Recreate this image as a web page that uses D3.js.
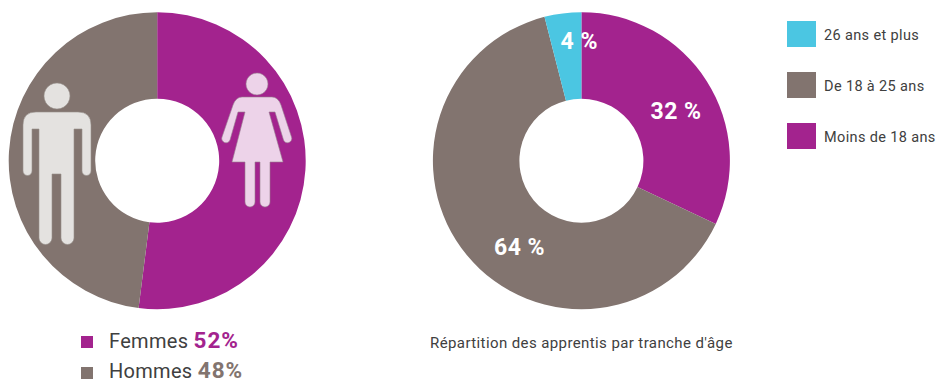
<!DOCTYPE html>
<html>
<head>
<meta charset="utf-8">
<script src="https://cdnjs.cloudflare.com/ajax/libs/d3/7.8.5/d3.min.js"></script>
<style>
    html, body { margin: 0; padding: 0; background: #fff; }
    svg { display: block; }
    text { font-family: Roboto, sans-serif; }
</style>
</head>
<body>
<svg id="chart" width="936" height="383"></svg>
<script>
var genreLabels = ["Femmes", "Hommes"];
var genreValues = [52, 48];
var ageLabels = ["Moins de 18 ans", "De 18 à 25 ans", "26 ans et plus"];
var ageValues = [32, 64, 4];
var ageTitle = "Répartition des apprentis par tranche d'âge";

var purple = "#a3238e",
    grey = "#82746f",
    cyan = "#4bc6e2",
    ink = "#404040";

var svg = d3.select("#chart");

var pie = d3.pie().sort(null);
var arc = d3.arc().innerRadius(62).outerRadius(148.5);

function donut(values, colors, cx, cy) {
    var g = svg.append("g")
        .attr("transform", "translate(" + cx + "," + cy + ")");
    g.selectAll("path")
        .data(pie(values))
        .enter().append("path")
        .attr("d", arc)
        .attr("fill", function(d, i) { return colors[i]; });
    return g;
}

donut(genreValues, [purple, grey], 157.2, 160.7);
var ageG = donut(ageValues, [purple, grey, cyan], 581.4, 160.7);

// percent labels on the second donut
var labelArc = d3.arc().innerRadius(105).outerRadius(105);
var labelShift = [[6, 6], [19, 19], [11, -16]];
ageG.selectAll("text")
    .data(pie(ageValues))
    .enter().append("text")
    .attr("x", function(d, i) { return labelArc.centroid(d)[0] + labelShift[i][0]; })
    .attr("y", function(d, i) { return labelArc.centroid(d)[1] + labelShift[i][1]; })
    .attr("dy", "0.36em")
    .attr("text-anchor", "middle")
    .attr("fill", "#fff")
    .attr("font-size", 23)
    .attr("font-weight", 700)
    .attr("letter-spacing", 0.5)
    .text(function(d) { return d.data + " %"; });

// pictograms
svg.append("path")
    .attr("transform", "translate(57,135)")
    .attr("d", "M0,-52 a13,13 0 1,1 -0.01,0 Z" +
        "M-21,-23 H21 Q34,-23 34,-10 V36 a4.5,4.5 0 0,1 -9,0 V-6 H17 V103 a6.5,6.5 0 0,1 -13,0 V39 H-5 V103 a6.5,6.5 0 0,1 -13,0 V-6 H-25 V36 a4.5,4.5 0 0,1 -9,0 V-10 Q-34,-23 -21,-23 Z")
    .attr("fill", "#e4e2e0")
    .attr("stroke", "#97908c")
    .attr("stroke-width", 0.6);

svg.append("path")
    .attr("transform", "translate(257,135)")
    .attr("d", "M0,-62 a11,11 0 1,1 -0.01,0 Z" +
        "M-15,-38 H15 Q21,-38 24,-30 L34.5,2 a4,4 0 0,1 -8,3 L18,-23 H12 L26,27 H13 V67 a5,5 0 0,1 -10,0 V27 H-2 V67 a5,5 0 0,1 -10,0 V27 H-25 L-12,-23 H-19 L-27,5 a4,4 0 0,1 -8,-3 L-24,-30 Q-21,-38 -15,-38 Z")
    .attr("fill", "#edd3e9")
    .attr("stroke", "#97808f")
    .attr("stroke-width", 0.6);

// bottom-left legend
var genreColors = [purple, grey];
var genreRows = svg.selectAll("g.genre")
    .data(genreLabels)
    .enter().append("g")
    .attr("class", "genre")
    .attr("transform", function(d, i) { return "translate(81," + (342 + i * 31) + ")"; });
genreRows.append("rect")
    .attr("y", -6)
    .attr("width", 12)
    .attr("height", 12)
    .attr("fill", function(d, i) { return genreColors[i]; });
var genreText = genreRows.append("text")
    .attr("x", 28)
    .attr("y", function(d, i) { return 6 - i * 1.5; })
    .attr("font-size", 20)
    .attr("letter-spacing", 0.3)
    .attr("fill", ink)
    .text(function(d) { return d + " "; });
genreText.append("tspan")
    .attr("font-weight", 700)
    .attr("font-size", 22.5)
    .attr("letter-spacing", 1)
    .attr("fill", function(d, i) { return genreColors[i]; })
    .text(function(d, i) { return genreValues[i] + "%"; });

// top-right legend
var ageColors = [cyan, grey, purple];
var ageRows = svg.selectAll("g.age")
    .data(ageLabels.slice().reverse())
    .enter().append("g")
    .attr("class", "age")
    .attr("transform", function(d, i) { return "translate(787," + (21 + i * 51) + ")"; });
ageRows.append("rect")
    .attr("width", 29)
    .attr("height", 26)
    .attr("fill", function(d, i) { return ageColors[i]; });
ageRows.append("text")
    .attr("x", 37)
    .attr("y", 19)
    .attr("font-size", 14.5)
    .attr("letter-spacing", 0.36)
    .attr("fill", ink)
    .text(function(d) { return d; });

svg.append("text")
    .attr("x", 430)
    .attr("y", 348)
    .attr("font-size", 15)
    .attr("letter-spacing", 0.4)
    .attr("fill", ink)
    .text(ageTitle);
</script>
</body>
</html>
